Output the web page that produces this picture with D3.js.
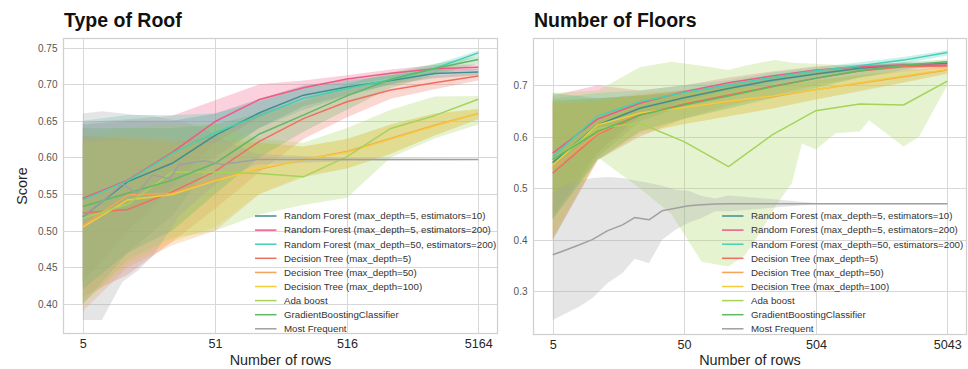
<!DOCTYPE html>
<html><head><meta charset="utf-8">
<script src="https://cdn.jsdelivr.net/npm/d3@7"></script>
<style>
body{margin:0;background:#fff}
svg{display:block}
text{font-family:"Liberation Sans",Arial,Helvetica,sans-serif}
</style></head>
<body><svg id="chart" width="968" height="369"></svg>
<script>
// ---------- shared ----------
const seriesNames = [
  "Random Forest (max_depth=5, estimators=10)",
  "Random Forest (max_depth=5, estimators=200)",
  "Random Forest (max_depth=50, estimators=200)",
  "Decision Tree (max_depth=5)",
  "Decision Tree (max_depth=50)",
  "Decision Tree (max_depth=100)",
  "Ada boost",
  "GradientBoostingClassifier",
  "Most Frequent"
];
const seriesColors = ["#3f8f8f","#ee5a85","#45d0b2","#ef6f5e","#f5a358","#f3cc3c","#a5d35a","#5fb864","#a0a0a0"];

// ---------- Type of Roof ----------
const roofRows  = [5, 11, 24, 51, 111, 240, 516, 1112, 2397, 5164];
const roofTicks = [5, 51, 516, 5164];
const roofYDomain = [0.359, 0.763];
const roofYTicks = [0.40, 0.45, 0.50, 0.55, 0.60, 0.65, 0.70, 0.75];

const roofRF5e10   = [0.519, 0.567, 0.592, 0.630, 0.661, 0.685, 0.696, 0.705, 0.7145, 0.7167];
const roofRF5e10Lo = [0.40, 0.47, 0.52, 0.60, 0.64, 0.67, 0.685, 0.70, 0.708, 0.712];
const roofRF5e10Hi = [0.645, 0.65, 0.65, 0.66, 0.68, 0.698, 0.706, 0.712, 0.72, 0.721];

const roofRF5e200   = [0.544, 0.569, 0.607, 0.649, 0.679, 0.695, 0.707, 0.715, 0.721, 0.723];
const roofRF5e200Lo = [0.43, 0.50, 0.56, 0.62, 0.655, 0.68, 0.698, 0.708, 0.715, 0.719];
const roofRF5e200Hi = [0.648, 0.652, 0.657, 0.678, 0.70, 0.705, 0.712, 0.72, 0.726, 0.727];

const roofRF50e200   = [0.542, 0.568, 0.6055, 0.634, 0.657, 0.6805, 0.694, 0.706, 0.7213, 0.7427];
const roofRF50e200Lo = [0.43, 0.49, 0.55, 0.605, 0.64, 0.665, 0.684, 0.70, 0.715, 0.739];
const roofRF50e200Hi = [0.65, 0.658, 0.658, 0.66, 0.676, 0.695, 0.703, 0.712, 0.727, 0.746];

const roofDT5   = [0.524, 0.529, 0.553, 0.581, 0.622, 0.653, 0.676, 0.692, 0.702, 0.711];
const roofDT5Lo = [0.41, 0.44, 0.485, 0.53, 0.58, 0.625, 0.655, 0.68, 0.693, 0.705];
const roofDT5Hi = [0.63, 0.625, 0.62, 0.63, 0.66, 0.68, 0.695, 0.705, 0.712, 0.716];

const roofDT50   = [0.507, 0.5486, 0.551, 0.570, 0.584, 0.597, 0.608, 0.626, 0.644, 0.660];
const roofDT50Lo = [0.39, 0.45, 0.48, 0.50, 0.55, 0.573, 0.585, 0.605, 0.63, 0.652];
const roofDT50Hi = [0.625, 0.63, 0.625, 0.625, 0.62, 0.615, 0.625, 0.645, 0.66, 0.666];

const roofDT100   = [0.505, 0.542, 0.5495, 0.568, 0.585, 0.597, 0.607, 0.625, 0.643, 0.660];
const roofDT100Lo = [0.40, 0.455, 0.485, 0.505, 0.55, 0.575, 0.585, 0.605, 0.63, 0.652];
const roofDT100Hi = [0.62, 0.625, 0.62, 0.62, 0.62, 0.615, 0.625, 0.645, 0.66, 0.666];

const roofAda   = [0.517, 0.536, 0.580, 0.580, 0.578, 0.5735, 0.601, 0.6395, 0.657, 0.6795];
const roofAdaLo = [0.40, 0.46, 0.49, 0.50, 0.522, 0.535, 0.545, 0.60, 0.626, 0.645];
const roofAdaHi = [0.63, 0.64, 0.645, 0.645, 0.625, 0.62, 0.64, 0.665, 0.683, 0.684];

const roofGB   = [0.533, 0.551, 0.569, 0.592, 0.632, 0.6577, 0.684, 0.7068, 0.7213, 0.7336];
const roofGBLo = [0.42, 0.47, 0.50, 0.55, 0.60, 0.635, 0.665, 0.695, 0.712, 0.728];
const roofGBHi = [0.64, 0.64, 0.64, 0.645, 0.66, 0.677, 0.70, 0.716, 0.728, 0.738];

const roofMFRows = [5, 7, 10, 13, 17, 23, 27, 42, 57, 105, 516, 5164];
const roofMF     = [0.520, 0.540, 0.5636, 0.551, 0.576, 0.571, 0.590, 0.5955, 0.5905, 0.597, 0.597, 0.597];
const roofMFLo   = [0.378, 0.378, 0.43, 0.445, 0.465, 0.50, 0.52, 0.55, 0.57, 0.59, 0.595, 0.596];
const roofMFHi   = [0.66, 0.663, 0.66, 0.658, 0.657, 0.652, 0.65, 0.64, 0.625, 0.605, 0.599, 0.598];

// ---------- Number of Floors ----------
const floorsRows  = [5, 11, 23, 50, 109, 234, 504, 1086, 2341, 5043];
const floorsTicks = [5, 50, 504, 5043];
const floorsYDomain = [0.2146, 0.792];
const floorsYTicks = [0.3, 0.4, 0.5, 0.6, 0.7];

const floorsRF5e10   = [0.5497, 0.623, 0.6553, 0.676, 0.694, 0.710, 0.722, 0.733, 0.739, 0.7427];
const floorsRF5e10Lo = [0.44, 0.56, 0.63, 0.66, 0.683, 0.70, 0.715, 0.727, 0.735, 0.739];
const floorsRF5e10Hi = [0.67, 0.675, 0.68, 0.69, 0.705, 0.72, 0.73, 0.739, 0.743, 0.746];

const floorsRF5e200   = [0.568, 0.6346, 0.665, 0.6876, 0.705, 0.718, 0.7297, 0.736, 0.7394, 0.739];
const floorsRF5e200Lo = [0.45, 0.57, 0.64, 0.67, 0.692, 0.707, 0.72, 0.73, 0.735, 0.735];
const floorsRF5e200Hi = [0.68, 0.70, 0.69, 0.70, 0.715, 0.727, 0.737, 0.741, 0.744, 0.743];

const floorsRF50e200   = [0.5614, 0.6404, 0.668, 0.686, 0.7006, 0.7155, 0.7284, 0.738, 0.749, 0.764];
const floorsRF50e200Lo = [0.44, 0.57, 0.64, 0.668, 0.688, 0.705, 0.72, 0.73, 0.742, 0.758];
const floorsRF50e200Hi = [0.675, 0.685, 0.69, 0.70, 0.71, 0.725, 0.735, 0.745, 0.755, 0.768];

const floorsDT5   = [0.529, 0.6049, 0.6423, 0.6637, 0.6812, 0.698, 0.7136, 0.728, 0.736, 0.7375];
const floorsDT5Lo = [0.40, 0.555, 0.60, 0.635, 0.66, 0.68, 0.70, 0.715, 0.727, 0.732];
const floorsDT5Hi = [0.665, 0.67, 0.68, 0.69, 0.70, 0.715, 0.727, 0.737, 0.742, 0.743];

const floorsDT50   = [0.5388, 0.6068, 0.6468, 0.6573, 0.668, 0.678, 0.692, 0.704, 0.7167, 0.7297];
const floorsDT50Lo = [0.40, 0.555, 0.605, 0.625, 0.64, 0.655, 0.673, 0.688, 0.705, 0.722];
const floorsDT50Hi = [0.67, 0.67, 0.685, 0.69, 0.695, 0.70, 0.71, 0.72, 0.728, 0.737];

const floorsDT100   = [0.5452, 0.623, 0.646, 0.657, 0.669, 0.679, 0.692, 0.705, 0.718, 0.731];
const floorsDT100Lo = [0.41, 0.56, 0.61, 0.625, 0.64, 0.655, 0.672, 0.69, 0.706, 0.724];
const floorsDT100Hi = [0.67, 0.67, 0.68, 0.685, 0.695, 0.70, 0.71, 0.72, 0.729, 0.738];

const floorsAda   = [0.555, 0.6165, 0.6262, 0.5905, 0.542, 0.6035, 0.6507, 0.6637, 0.6617, 0.7083];
const floorsAdaBandRows = [5, 11, 23, 40, 68, 109, 146, 196, 247, 331, 395, 504, 713, 1086, 1280, 2341, 3070, 5043];
const floorsAdaLo = [0.40, 0.56, 0.50, 0.45, 0.357, 0.348, 0.37, 0.419, 0.464, 0.51, 0.587, 0.575, 0.607, 0.61, 0.632, 0.581, 0.60, 0.70];
const floorsAdaHi = [0.685, 0.69, 0.735, 0.746, 0.738, 0.73, 0.738, 0.745, 0.749, 0.744, 0.743, 0.742, 0.74, 0.738, 0.737, 0.733, 0.73, 0.727];

const floorsGB   = [0.556, 0.61, 0.6423, 0.6617, 0.679, 0.697, 0.7136, 0.7284, 0.739, 0.7458];
const floorsGBLo = [0.44, 0.555, 0.61, 0.635, 0.655, 0.675, 0.695, 0.715, 0.73, 0.74];
const floorsGBHi = [0.685, 0.675, 0.68, 0.685, 0.70, 0.715, 0.728, 0.738, 0.745, 0.75];

const floorsMFRows = [5, 6, 8, 10, 13, 17, 21, 27, 34, 43, 54, 68, 86, 109, 504, 5043];
const floorsMF     = [0.3705, 0.378, 0.390, 0.400, 0.417, 0.4287, 0.4429, 0.4385, 0.456, 0.461, 0.4657, 0.4676, 0.4695, 0.470, 0.470, 0.470];
const floorsMFLo   = [0.244, 0.254, 0.27, 0.286, 0.315, 0.335, 0.363, 0.354, 0.40, 0.419, 0.433, 0.442, 0.455, 0.455, 0.469, 0.469];
const floorsMFHi   = [0.49, 0.505, 0.515, 0.52, 0.522, 0.52, 0.515, 0.51, 0.505, 0.497, 0.495, 0.485, 0.48, 0.486, 0.471, 0.471];

// ---------- assemble ----------
function mk(rows, mean, bandRows, lo, hi) {
  return {
    line: rows.map((r, i) => [r, mean[i]]),
    band: bandRows.map((r, i) => [r, lo[i], hi[i]])
  };
}
const roofSeries = [
  mk(roofRows, roofRF5e10, roofRows, roofRF5e10Lo, roofRF5e10Hi),
  mk(roofRows, roofRF5e200, roofRows, roofRF5e200Lo, roofRF5e200Hi),
  mk(roofRows, roofRF50e200, roofRows, roofRF50e200Lo, roofRF50e200Hi),
  mk(roofRows, roofDT5, roofRows, roofDT5Lo, roofDT5Hi),
  mk(roofRows, roofDT50, roofRows, roofDT50Lo, roofDT50Hi),
  mk(roofRows, roofDT100, roofRows, roofDT100Lo, roofDT100Hi),
  mk(roofRows, roofAda, roofRows, roofAdaLo, roofAdaHi),
  mk(roofRows, roofGB, roofRows, roofGBLo, roofGBHi),
  mk(roofMFRows, roofMF, roofMFRows, roofMFLo, roofMFHi)
];
const floorsSeries = [
  mk(floorsRows, floorsRF5e10, floorsRows, floorsRF5e10Lo, floorsRF5e10Hi),
  mk(floorsRows, floorsRF5e200, floorsRows, floorsRF5e200Lo, floorsRF5e200Hi),
  mk(floorsRows, floorsRF50e200, floorsRows, floorsRF50e200Lo, floorsRF50e200Hi),
  mk(floorsRows, floorsDT5, floorsRows, floorsDT5Lo, floorsDT5Hi),
  mk(floorsRows, floorsDT50, floorsRows, floorsDT50Lo, floorsDT50Hi),
  mk(floorsRows, floorsDT100, floorsRows, floorsDT100Lo, floorsDT100Hi),
  mk(floorsRows, floorsAda, floorsAdaBandRows, floorsAdaLo, floorsAdaHi),
  mk(floorsRows, floorsGB, floorsRows, floorsGBLo, floorsGBHi),
  mk(floorsMFRows, floorsMF, floorsMFRows, floorsMFLo, floorsMFHi)
];

const panels = [
  {id:"roof", title:"Type of Roof", x0:63, x1:498, y0:38, y1:334, ticks:roofTicks,
   yDomain:roofYDomain, yTicks:roofYTicks, yFmt:".2f", series:roofSeries,
   legX:255, legY:216, yLabel:"Score"},
  {id:"floors", title:"Number of Floors", x0:533, x1:967, y0:38, y1:335, ticks:floorsTicks,
   yDomain:floorsYDomain, yTicks:floorsYTicks, yFmt:".1f", series:floorsSeries,
   legX:722, legY:216, yLabel:null}
];

const svg = d3.select("#chart");
const gridColor = "#d8d8d8";

panels.forEach(p => {
  const lmin = Math.log10(p.ticks[0]), lmax = Math.log10(p.ticks[p.ticks.length - 1]);
  const pad = 0.05 * (lmax - lmin);
  const x = d3.scaleLog().domain([10 ** (lmin - pad), 10 ** (lmax + pad)]).range([p.x0, p.x1]);
  const y = d3.scaleLinear().domain(p.yDomain).range([p.y1, p.y0]);
  const g = svg.append("g");

  // grid
  g.append("g").selectAll("line").data(p.yTicks).join("line")
    .attr("x1", p.x0).attr("x2", p.x1)
    .attr("y1", d => Math.round(y(d)) + 0.5).attr("y2", d => Math.round(y(d)) + 0.5)
    .attr("stroke", gridColor).attr("stroke-width", 1);
  g.append("g").selectAll("line").data(p.ticks).join("line")
    .attr("y1", p.y0).attr("y2", p.y1)
    .attr("x1", d => Math.round(x(d)) + 0.5).attr("x2", d => Math.round(x(d)) + 0.5)
    .attr("stroke", gridColor).attr("stroke-width", 1);

  // clip
  svg.append("clipPath").attr("id", "clip-" + p.id).append("rect")
    .attr("x", p.x0).attr("y", p.y0).attr("width", p.x1 - p.x0).attr("height", p.y1 - p.y0);
  const plot = g.append("g").attr("clip-path", `url(#clip-${p.id})`);

  const area = d3.area().x(d => x(d[0])).y0(d => y(d[1])).y1(d => y(d[2]));
  const line = d3.line().x(d => x(d[0])).y(d => y(d[1]));

  plot.append("g").selectAll("path").data(p.series).join("path")
    .attr("d", s => area(s.band))
    .attr("fill", (s, i) => seriesColors[i]).attr("fill-opacity", 0.28).attr("stroke", "none");
  plot.append("g").selectAll("path").data(p.series).join("path")
    .attr("d", s => line(s.line))
    .attr("fill", "none").attr("stroke", (s, i) => seriesColors[i])
    .attr("stroke-width", 1.5).attr("stroke-linejoin", "round").attr("stroke-linecap", "butt");

  // frame
  g.append("rect").attr("x", p.x0 + 0.5).attr("y", p.y0 + 0.5)
    .attr("width", p.x1 - p.x0 - 1).attr("height", p.y1 - p.y0 - 1)
    .attr("fill", "none").attr("stroke", "#d0d0d0").attr("stroke-width", 1.25);

  // axes labels
  const xAxis = d3.axisBottom(x).tickValues(p.ticks).tickFormat(d3.format("d")).tickSize(0).tickPadding(0);
  const xa = g.append("g").attr("transform", `translate(0,${p.y1})`).call(xAxis);
  xa.select(".domain").remove();
  xa.selectAll("text").attr("dy", null).attr("y", 14).attr("font-size", 12.6).attr("fill", "#262626")
    .attr("font-family", '"Liberation Sans",Arial,sans-serif');

  const yAxis = d3.axisLeft(y).tickValues(p.yTicks).tickFormat(d3.format(p.yFmt)).tickSize(0).tickPadding(0);
  const ya = g.append("g").attr("transform", `translate(${p.x0 - 5.5},0)`).call(yAxis);
  ya.select(".domain").remove();
  ya.selectAll("text").attr("dy", "0.35em").attr("x", 0).attr("font-size", 10).attr("fill", "#555")
    .attr("font-family", '"Liberation Sans",Arial,sans-serif');

  g.append("text").attr("x", (p.x0 + p.x1) / 2).attr("y", 365).attr("text-anchor", "middle")
    .attr("font-size", 14.4).attr("fill", "#262626").text("Number of rows");
  if (p.yLabel) {
    g.append("text").attr("transform", `translate(26.5,${(p.y0 + p.y1) / 2}) rotate(-90)`)
      .attr("text-anchor", "middle").attr("font-size", 14.4).attr("fill", "#262626").text(p.yLabel);
  }
  g.append("text").attr("x", p.x0 + 1).attr("y", 27).attr("font-size", 19.5).attr("font-weight", "bold")
    .attr("fill", "#111").text(p.title);

  // legend
  const leg = g.append("g");
  seriesNames.forEach((name, i) => {
    const cy = p.legY + i * 14.1;
    leg.append("line").attr("x1", p.legX).attr("x2", p.legX + 21.5).attr("y1", cy).attr("y2", cy)
      .attr("stroke", seriesColors[i]).attr("stroke-width", 1.5);
    leg.append("text").attr("x", p.legX + 29).attr("y", cy).attr("dy", "0.35em")
      .attr("font-size", 9.7).attr("fill", "#333").text(name);
  });
});
</script>
</body></html>
